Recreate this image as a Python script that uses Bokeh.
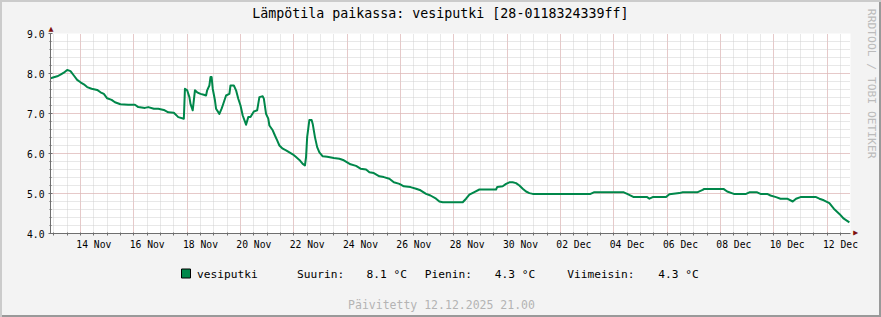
import pandas as pd
from bokeh.plotting import figure
from bokeh.layouts import column
from bokeh.core.properties import value
from bokeh.models import (FixedTicker, PrintfTickFormatter, DatetimeTickFormatter, Range1d,
                          ColumnDataSource, Title)
from bokeh.embed import file_html
from bokeh.resources import INLINE

# ---------------- data ----------------
title_text = "Lämpötila paikassa: vesiputki [28-0118324339ff]"
series_name = "vesiputki"
updated_text = "Päivitetty 12.12.2025 21.00"
watermark = "RRDTOOL / TOBI OETIKER"
range_start = "2025-11-12 21:00"
range_end = "2025-12-12 21:00"

times = [
    "2025-11-12 21:00", "2025-11-13 03:00", "2025-11-13 06:00", "2025-11-13 09:00", "2025-11-13 12:00",
    "2025-11-13 15:00", "2025-11-13 18:00", "2025-11-13 21:00", "2025-11-14 00:00", "2025-11-14 03:00",
    "2025-11-14 06:00", "2025-11-14 10:00", "2025-11-14 15:00", "2025-11-14 18:00", "2025-11-14 21:00",
    "2025-11-15 00:00", "2025-11-15 04:00", "2025-11-15 07:00", "2025-11-15 12:00", "2025-11-15 19:00",
    "2025-11-16 01:00", "2025-11-16 04:00", "2025-11-16 10:00", "2025-11-16 13:00", "2025-11-16 18:00",
    "2025-11-16 22:00", "2025-11-17 03:00", "2025-11-17 07:00", "2025-11-17 12:00", "2025-11-17 16:00",
    "2025-11-17 21:00", "2025-11-17 22:00", "2025-11-18 00:00", "2025-11-18 02:00", "2025-11-18 03:00",
    "2025-11-18 05:00", "2025-11-18 07:00", "2025-11-18 09:00", "2025-11-18 12:00", "2025-11-18 15:00",
    "2025-11-18 17:00", "2025-11-18 18:00", "2025-11-18 20:00", "2025-11-18 21:00", "2025-11-18 22:00",
    "2025-11-18 23:00", "2025-11-19 01:00", "2025-11-19 02:00", "2025-11-19 05:00", "2025-11-19 07:00",
    "2025-11-19 08:00", "2025-11-19 11:00", "2025-11-19 14:00", "2025-11-19 15:00", "2025-11-19 18:00",
    "2025-11-19 20:00", "2025-11-19 22:00", "2025-11-20 00:00", "2025-11-20 02:00", "2025-11-20 05:00",
    "2025-11-20 07:00", "2025-11-20 09:00", "2025-11-20 12:00", "2025-11-20 15:00", "2025-11-20 17:00",
    "2025-11-20 20:00", "2025-11-20 21:00", "2025-11-20 23:00", "2025-11-21 01:00", "2025-11-21 02:00",
    "2025-11-21 05:00", "2025-11-21 07:00", "2025-11-21 09:00", "2025-11-21 11:00", "2025-11-21 14:00",
    "2025-11-21 17:00", "2025-11-21 20:00", "2025-11-21 23:00", "2025-11-22 02:00", "2025-11-22 05:00",
    "2025-11-22 08:00", "2025-11-22 10:00", "2025-11-22 11:00", "2025-11-22 12:00", "2025-11-22 14:00",
    "2025-11-22 16:00", "2025-11-22 17:00", "2025-11-22 19:00", "2025-11-22 21:00", "2025-11-22 23:00",
    "2025-11-23 02:00", "2025-11-23 06:00", "2025-11-23 12:00", "2025-11-23 17:00", "2025-11-23 21:00",
    "2025-11-24 00:00", "2025-11-24 03:00", "2025-11-24 08:00", "2025-11-24 12:00", "2025-11-24 17:00",
    "2025-11-24 20:00", "2025-11-25 00:00", "2025-11-25 05:00", "2025-11-25 09:00", "2025-11-25 14:00",
    "2025-11-25 18:00", "2025-11-25 23:00", "2025-11-26 03:00", "2025-11-26 09:00", "2025-11-26 14:00",
    "2025-11-26 18:00", "2025-11-26 23:00", "2025-11-27 03:00", "2025-11-27 08:00", "2025-11-27 11:00",
    "2025-11-27 14:00", "2025-11-28 08:00", "2025-11-28 11:00", "2025-11-28 14:00", "2025-11-28 18:00",
    "2025-11-28 23:00", "2025-11-29 14:00", "2025-11-29 15:00", "2025-11-29 20:00", "2025-11-29 23:00",
    "2025-11-30 02:00", "2025-11-30 05:00", "2025-11-30 08:00", "2025-11-30 11:00", "2025-11-30 14:00",
    "2025-11-30 17:00", "2025-11-30 20:00", "2025-11-30 23:00", "2025-12-03 03:00", "2025-12-03 06:00",
    "2025-12-04 09:00", "2025-12-04 12:00", "2025-12-04 18:00", "2025-12-05 06:00", "2025-12-05 08:00",
    "2025-12-05 11:00", "2025-12-05 23:00", "2025-12-06 02:00", "2025-12-06 11:00", "2025-12-06 14:00",
    "2025-12-07 03:00", "2025-12-07 08:00", "2025-12-07 09:00", "2025-12-08 03:00", "2025-12-08 06:00",
    "2025-12-08 12:00", "2025-12-08 23:00", "2025-12-09 02:00", "2025-12-09 09:00", "2025-12-09 12:00",
    "2025-12-09 18:00", "2025-12-09 21:00", "2025-12-10 02:00", "2025-12-10 06:00", "2025-12-10 12:00",
    "2025-12-10 17:00", "2025-12-10 20:00", "2025-12-11 00:00", "2025-12-11 14:00", "2025-12-11 17:00",
    "2025-12-11 21:00", "2025-12-12 02:00", "2025-12-12 06:00", "2025-12-12 11:00", "2025-12-12 15:00",
    "2025-12-12 20:00",
]
temps = [
    7.88, 7.93, 7.97, 8.02, 8.09, 8.06, 7.95, 7.84, 7.78, 7.73,
    7.66, 7.62, 7.59, 7.53, 7.49, 7.38, 7.34, 7.28, 7.23, 7.22,
    7.22, 7.16, 7.14, 7.16, 7.12, 7.12, 7.09, 7.03, 7.02, 6.91,
    6.87, 7.62, 7.58, 7.41, 7.24, 7.08, 7.58, 7.53, 7.49, 7.47,
    7.45, 7.58, 7.70, 7.91, 7.91, 7.62, 7.33, 7.12, 6.99, 7.12,
    7.20, 7.45, 7.49, 7.70, 7.70, 7.58, 7.37, 7.20, 6.95, 6.72,
    6.91, 6.91, 7.05, 7.08, 7.41, 7.43, 7.37, 6.99, 6.87, 6.70,
    6.58, 6.45, 6.33, 6.20, 6.12, 6.08, 6.03, 5.98, 5.91, 5.84,
    5.74, 5.70, 5.91, 6.41, 6.84, 6.84, 6.74, 6.41, 6.16, 6.03,
    5.93, 5.92, 5.89, 5.87, 5.83, 5.78, 5.73, 5.69, 5.62, 5.60,
    5.53, 5.51, 5.43, 5.41, 5.37, 5.28, 5.24, 5.18, 5.16, 5.12,
    5.08, 4.99, 4.95, 4.87, 4.80, 4.78, 4.78, 4.87, 4.97, 5.03,
    5.10, 5.10, 5.16, 5.18, 5.24, 5.28, 5.28, 5.26, 5.20, 5.12,
    5.05, 5.01, 4.99, 4.99, 5.03, 5.03, 4.99, 4.91, 4.91, 4.87,
    4.91, 4.91, 4.98, 5.01, 5.03, 5.03, 5.09, 5.11, 5.11, 5.05,
    4.99, 4.99, 5.03, 5.03, 4.99, 4.99, 4.95, 4.91, 4.87, 4.87,
    4.80, 4.87, 4.91, 4.91, 4.87, 4.83, 4.76, 4.62, 4.49, 4.37,
    4.28,
]
y_ticks = [4.0, 5.0, 6.0, 7.0, 8.0, 9.0]
y_minor = [round(4.0 + 0.2 * i, 1) for i in range(26)]
stat_labels = ["Suurin:", "Pienin:", "Viimeisin:"]
unit = "°C"

# ---------------- styling ----------------
FONT = "DejaVu Sans Mono"
LINE_COLOR = "#00874A"
MGRID = "#E4AAAA"
GRID = "#D0D0D0"
AXIS = "#6E6E6E"
ARROW = "#7F1010"

def ms(s):
    return pd.Timestamp(s).value // 10**6

xs = [ms(t) for t in times]
x0, x1 = ms(range_start), ms(range_end)

major_days = pd.date_range("2025-11-14", "2025-12-12", freq="2D")
label_pos = [ms(d + pd.Timedelta(hours=12)) for d in major_days]
grid_major = [ms(d) for d in major_days]
grid_minor = [ms(d) for d in pd.date_range("2025-11-13 00:00", "2025-12-12 12:00", freq="12h")]

W, H = 881, 317
TOP_H = 258                         # main figure height; legend strip below it
FL, FT, FR, FB = 50, 33, 850, 233   # plot frame box in canvas px

p = figure(width=W, height=TOP_H, output_backend="svg", toolbar_location=None,
           x_axis_type="datetime",
           x_range=Range1d(x0, x1), y_range=Range1d(4.0, 9.0),
           min_border_left=FL, min_border_right=W - FR, min_border_top=FT,
           min_border_bottom=TOP_H - FB)
p.background_fill_color = "white"
p.border_fill_color = None
p.outline_line_color = None

src = ColumnDataSource(dict(x=xs, y=temps))
p.line("x", "y", source=src, line_width=2, line_color=LINE_COLOR, line_join="round")

# x axis
xa = p.xaxis[0]
xa.ticker = FixedTicker(ticks=label_pos, minor_ticks=grid_minor)
fmt = "%d %b"
xa.formatter = DatetimeTickFormatter(microseconds=fmt, milliseconds=fmt, seconds=fmt, minsec=fmt,
                                     minutes=fmt, hourmin=fmt, hours=fmt, days=fmt, months=fmt, years=fmt)
xa.major_tick_line_color = None
xa.major_tick_out = 0
xa.major_tick_in = 0
xa.minor_tick_out = 2
xa.minor_tick_in = 1
xa.minor_tick_line_color = AXIS
xa.axis_line_color = AXIS
xa.major_label_standoff = 3
xa.major_label_text_font = FONT
xa.major_label_text_font_size = "9.7px"
xa.major_label_text_color = "black"

# y axis
ya = p.yaxis[0]
ya.ticker = FixedTicker(ticks=y_ticks, minor_ticks=y_minor)
ya.formatter = PrintfTickFormatter(format="%.1f")
ya.major_tick_out = 2
ya.major_tick_in = 2
ya.minor_tick_out = 1
ya.minor_tick_in = 1
ya.major_tick_line_color = AXIS
ya.minor_tick_line_color = AXIS
ya.axis_line_color = AXIS
ya.major_label_standoff = 4
ya.major_label_text_font = FONT
ya.major_label_text_font_size = "9.7px"
ya.major_label_text_color = "black"

# grids
p.xgrid.ticker = FixedTicker(ticks=grid_major, minor_ticks=grid_minor)
for g in (p.xgrid, p.ygrid):
    g.grid_line_color = MGRID
    g.grid_line_dash = "1 1"
    g.minor_grid_line_color = GRID
    g.minor_grid_line_dash = "1 1"

def side_text(text, side, size, color, align, offset, valign, standoff, font=FONT):
    p.add_layout(Title(text=text, align=align, offset=offset, vertical_align=valign,
                       standoff=standoff, text_font=font, text_font_size=size,
                       text_font_style="normal", text_color=color), side)

# above (stacked outward from the frame): y-axis arrow, then the title
side_text("▲", "above", "6.5px", ARROW, "right", 797, "bottom", 1, font="DejaVu Sans")
side_text(title_text, "above", "13.3px", "black", "left", 201.7, "top", 0)

# right: x-axis arrow (rotated), then the watermark
side_text("▲", "right", "6.5px", ARROW, "left", 197, "bottom", 2.7, font="DejaVu Sans")
side_text(watermark, "right", "11.3px", "#BBBBBB", "right", 75, "middle", 0)

# ---------------- legend strip (canvas rows 258..317) ----------------
# The column layout aligns this strip's frame with the main frame (x 50..850),
# so its x range is expressed in canvas pixels over that span.
SH = H - TOP_H
q = figure(width=W, height=SH, output_backend="svg", toolbar_location=None,
           x_range=Range1d(FL, FR), y_range=Range1d(TOP_H + SH, TOP_H),
           x_axis_location=None, y_axis_location=None,
           min_border_left=FL, min_border_right=W - FR, min_border_top=0, min_border_bottom=0)
q.grid.visible = False
q.outline_line_color = None
q.background_fill_color = None
q.border_fill_color = None

q.quad(left=[181], right=[190], top=[268.5], bottom=[277.5],
       fill_color=LINE_COLOR, line_color="black", line_width=1)

stats = [max(temps), min(temps), temps[-1]]
leg_texts = [series_name]
for name, val in zip(stat_labels, stats):
    leg_texts += [name, f"{val:.1f} {unit}"]
leg_x = [196.5, 296.5, 366, 424.3, 494.3, 566.7, 657.7]
q.text(x=leg_x, y=[273.5] * len(leg_x), text=leg_texts, text_font=value(FONT),
       text_font_size="11.2px", text_color="black", text_align="left", text_baseline="middle")
q.text(x=[441], y=[304], text=[updated_text], text_font=value(FONT),
       text_font_size="11.5px", text_color="#B4B4B4", text_align="center", text_baseline="middle")

page = column(p, q, spacing=0,
              styles={"background-color": "#F3F3F3",
                      "box-shadow": "inset 2px 2px 0 0 #CBCBCB, inset -2px -2px 0 0 #999999"})

open("out.html", "w").write(file_html(page, INLINE))
